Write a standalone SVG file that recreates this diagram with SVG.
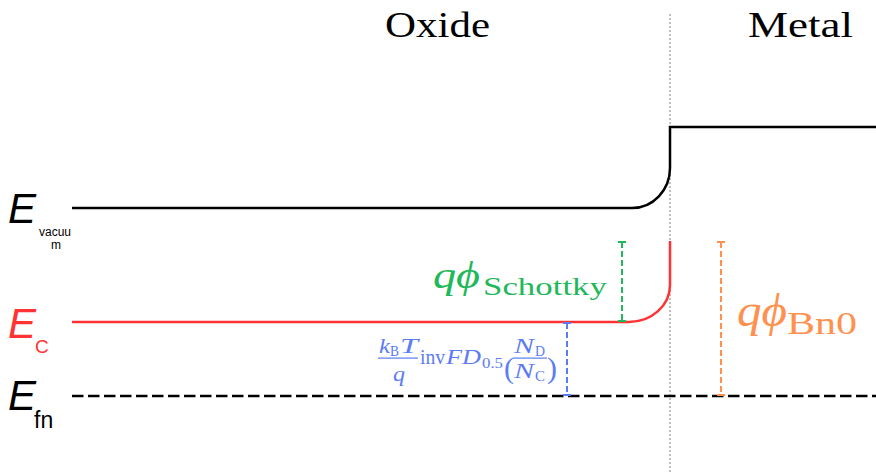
<svg xmlns="http://www.w3.org/2000/svg" width="876" height="472" viewBox="0 0 876 472">
<style>
.lvl{fill:none;stroke-width:2.5}
.ttl{font-family:"Liberation Serif",serif;font-size:36px;fill:#000}
.lab{font-family:"Liberation Sans",Arial,sans-serif;font-style:italic;font-size:42px}
.sub{font-family:"Liberation Sans",Arial,sans-serif}
.m{font-family:"Liberation Serif","DejaVu Serif",serif}
.it{font-style:italic}
.dim{fill:none;stroke-width:2;stroke-dasharray:6,3}
.tick{fill:none;stroke-width:2}
</style>
<rect width="876" height="472" fill="#fff"/>
<g id="titles">
<text class="ttl" x="385" y="37" textLength="105" lengthAdjust="spacingAndGlyphs">Oxide</text>
<text class="ttl" x="748" y="37" textLength="105" lengthAdjust="spacingAndGlyphs">Metal</text>
</g>
<g id="interface">
<line x1="670" y1="14" x2="670" y2="472" stroke="#aaa" stroke-width="1.5" stroke-dasharray="2,2"/>
</g>
<g id="connectors">
<path id="vacuum-level" class="lvl" stroke="#000" d="M72 208 H632 A38 40 0 0 0 670 168 V127 H876"/>
<path id="conduction-band" class="lvl" stroke="#f33" d="M72 322 H629 A41 37 0 0 0 670 285 V241"/>
<line id="fermi-level" x1="72" y1="396" x2="876" y2="396" stroke="#000" stroke-width="2.5" stroke-dasharray="11.5,4.5"/>
</g>
<g id="label-Evacuum">
<text class="lab" x="8" y="223" fill="#000">E</text>
<text class="sub" x="39" y="236" font-size="12" fill="#000">vacuu</text>
<text class="sub" x="51" y="249" font-size="12" fill="#000">m</text>
</g>
<g id="label-Ec">
<text class="lab" x="8" y="338" fill="#f33">E</text>
<text class="sub" x="35" y="353" font-size="19" fill="#f33">C</text>
</g>
<g id="label-Efn">
<text class="lab" x="8" y="410" fill="#000">E</text>
<text class="sub" x="34" y="428" font-size="23" fill="#000">fn</text>
</g>
<g id="schottky" stroke="#1fb85a">
<line class="dim" x1="622" y1="242" x2="622" y2="321"/>
<path class="tick" d="M618 242 H626 M618 321 H626"/>
<text class="m it" x="433" y="288" font-size="38" fill="#1fb85a" stroke="none" textLength="47" lengthAdjust="spacingAndGlyphs">qϕ</text>
<text class="m" x="483" y="295" font-size="26" fill="#1fb85a" stroke="none" textLength="124" lengthAdjust="spacingAndGlyphs">Schottky</text>
</g>
<g id="bn0" stroke="#ff9150">
<line class="dim" x1="721" y1="242" x2="721" y2="395"/>
<path class="tick" d="M717 242 H725 M717 395 H725"/>
<text class="m it" x="737" y="326" font-size="46" fill="#ff9150" stroke="none" textLength="50" lengthAdjust="spacingAndGlyphs">qϕ</text>
<text class="m" x="787" y="334" font-size="32" fill="#ff9150" stroke="none" textLength="70" lengthAdjust="spacingAndGlyphs">Bn0</text>
</g>
<g id="fd" stroke="#5b7cf5">
<line class="dim" x1="567" y1="323" x2="567" y2="395"/>
<path class="tick" d="M563 323 H571 M563 395 H571"/>
<g fill="#5b7cf5" stroke="none" class="m">
<text class="it" x="379" y="353" font-size="21" textLength="11" lengthAdjust="spacingAndGlyphs">k</text>
<text x="390" y="356" font-size="15" textLength="9" lengthAdjust="spacingAndGlyphs">B</text>
<text class="it" x="400" y="353" font-size="21" textLength="18" lengthAdjust="spacingAndGlyphs">T</text>
<rect x="378" y="357.5" width="40" height="1.2"/>
<text class="it" x="393" y="381" font-size="21" textLength="12" lengthAdjust="spacingAndGlyphs">q</text>
<text x="420" y="364" font-size="21" textLength="25" lengthAdjust="spacingAndGlyphs">inv</text>
<text class="it" x="446" y="364" font-size="21" textLength="35" lengthAdjust="spacingAndGlyphs">FD</text>
<text x="482" y="368" font-size="15" textLength="21" lengthAdjust="spacingAndGlyphs">0.5</text>
<text x="504" y="378" font-size="30">(</text>
<text class="it" x="514" y="353" font-size="21" textLength="20" lengthAdjust="spacingAndGlyphs">N</text>
<text x="535" y="356" font-size="15" textLength="10" lengthAdjust="spacingAndGlyphs">D</text>
<rect x="513" y="357.5" width="34" height="1.2"/>
<text class="it" x="514" y="378" font-size="21" textLength="20" lengthAdjust="spacingAndGlyphs">N</text>
<text x="535" y="381" font-size="15" textLength="10" lengthAdjust="spacingAndGlyphs">C</text>
<text x="547" y="378" font-size="30">)</text>
</g>
</g>
</svg>
